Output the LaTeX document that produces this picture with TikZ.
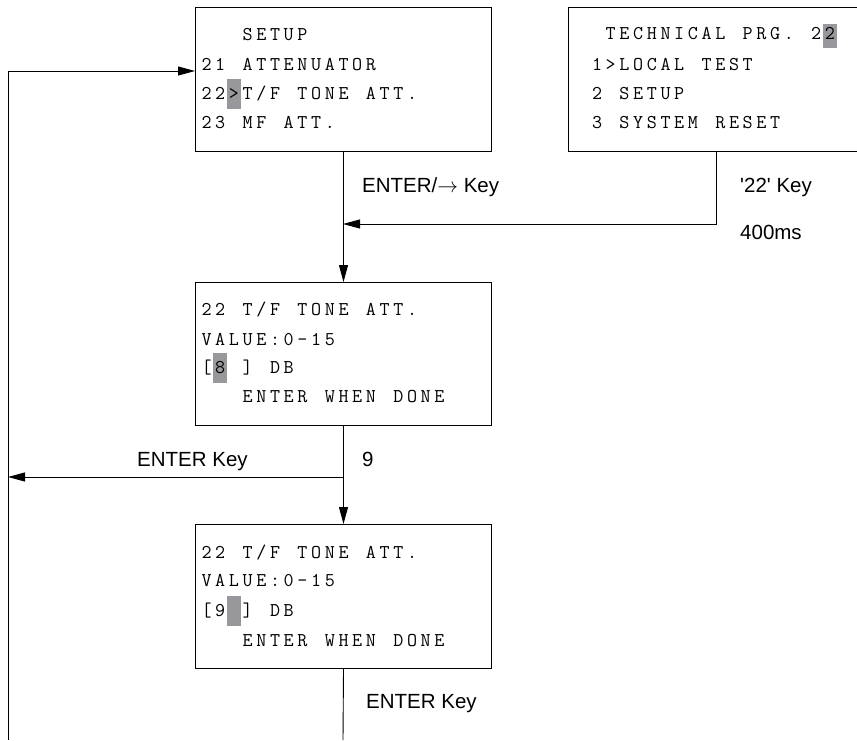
\documentclass[tikz,border=0pt]{standalone}
\usepackage{fontspec}
\setmainfont{Liberation Sans}
\usetikzlibrary{arrows.meta}
\definecolor{hlgray}{RGB}{152,152,156}
\ExplSyntaxOn
\NewDocumentCommand\lcd{m}{\str_map_inline:nn {#1} {\makebox[13.7pt][c]{##1}}}
\ExplSyntaxOff
\newcommand\lcdfont{\fontsize{19.5}{22}\selectfont\ttfamily}
\newcommand\lblfont{\fontsize{20.5}{24}\selectfont}
\begin{document}
\begin{tikzpicture}[x=1pt,y=-1pt,
  box/.style={draw, line width=1pt, inner sep=0pt, anchor=north west, minimum width=296pt},
  lcdtxt/.style={inner sep=0pt, anchor=base west, font=\lcdfont},
  lbl/.style={inner sep=0pt, anchor=base west, font=\lblfont},
  arr/.style={line width=0.9pt, -{Triangle[length=17pt,width=9pt]}},
  ln/.style={line width=0.9pt},
  hl/.style={fill=hlgray}]
\useasboundingbox (0,0) rectangle (857,740);
% highlights
\fill[hl] (226.9,79) rectangle (240.6,109);
\fill[hl] (822.9,24) rectangle (836.6,48);
\fill[hl] (213.2,353) rectangle (226.9,383);
\fill[hl] (226.9,596) rectangle (240.6,626);
% boxes
\node[box, minimum height=144pt] (b1) at (195,7) {};
\node[box, minimum height=144pt] (b2) at (568,7) {};
\node[box, minimum height=143pt] (b3) at (195,282) {};
\node[box, minimum height=144pt] (b4) at (195,524) {};
% box 1 text
\node[lcdtxt] (t11) at (240.6,40.7) {\lcd{SETUP}};
\node[lcdtxt] (t12) at (199.5,70) {\lcd{21 ATTENUATOR}};
\node[lcdtxt] (t13) at (199.5,99.3) {\lcd{22>T/F TONE ATT.}};
\node[lcdtxt] (t14) at (199.5,128.3) {\lcd{23 MF ATT.}};
% box 2 text
\node[lcdtxt] (t21) at (603.7,39.3) {\lcd{TECHNICAL PRG. 22}};
\node[lcdtxt] (t22) at (590,70) {\lcd{1>LOCAL TEST}};
\node[lcdtxt] (t23) at (590,99.3) {\lcd{2 SETUP}};
\node[lcdtxt] (t24) at (590,128.3) {\lcd{3 SYSTEM RESET}};
% box 3 text
\node[lcdtxt] (t31) at (199.5,315) {\lcd{22 T/F TONE ATT.}};
\node[lcdtxt] (t32) at (199.5,345) {\lcd{VALUE:0-15}};
\node[lcdtxt] (t33) at (199.5,373.3) {\lcd{[8 ] DB}};
\node[lcdtxt] (t34) at (240.6,402.7) {\lcd{ENTER WHEN DONE}};
% box 4 text
\node[lcdtxt] (t41) at (199.5,558.3) {\lcd{22 T/F TONE ATT.}};
\node[lcdtxt] (t42) at (199.5,586.7) {\lcd{VALUE:0-15}};
\node[lcdtxt] (t43) at (199.5,616.7) {\lcd{[9 ] DB}};
\node[lcdtxt] (t44) at (240.6,646) {\lcd{ENTER WHEN DONE}};
% labels
\node[lbl] (k1) at (362,192) {ENTER/$\rightarrow$ Key};
\node[lbl] (k2) at (740,192) {\textquotesingle22\textquotesingle{} Key};
\node[lbl] (k3) at (740,239) {400ms};
\node[lbl] (k4) at (137,466) {ENTER Key};
\node[lbl] (k5) at (362,466) {9};
\node[lbl] (k6) at (366,708) {ENTER Key};
% coordinates
\coordinate (j1) at (343,224);
\coordinate (j2) at (343,477);
\coordinate (l1) at (8,71);
\coordinate (l2) at (8,477);
\coordinate (lb) at (8,740);
\coordinate (bot) at (343,740);
% connectors
\draw[arr] (b1.south) -- (b3.north);
\draw[arr] (b2.south) |- (j1);
\draw[arr] (b3.south) -- (b4.north);
\draw[arr] (j2) -- (l2);
\draw[arr] (lb) -- (l1) -- (l1 -| b1.west);
\draw[ln] (b4.south) -- (bot);
\end{tikzpicture}
\end{document}
